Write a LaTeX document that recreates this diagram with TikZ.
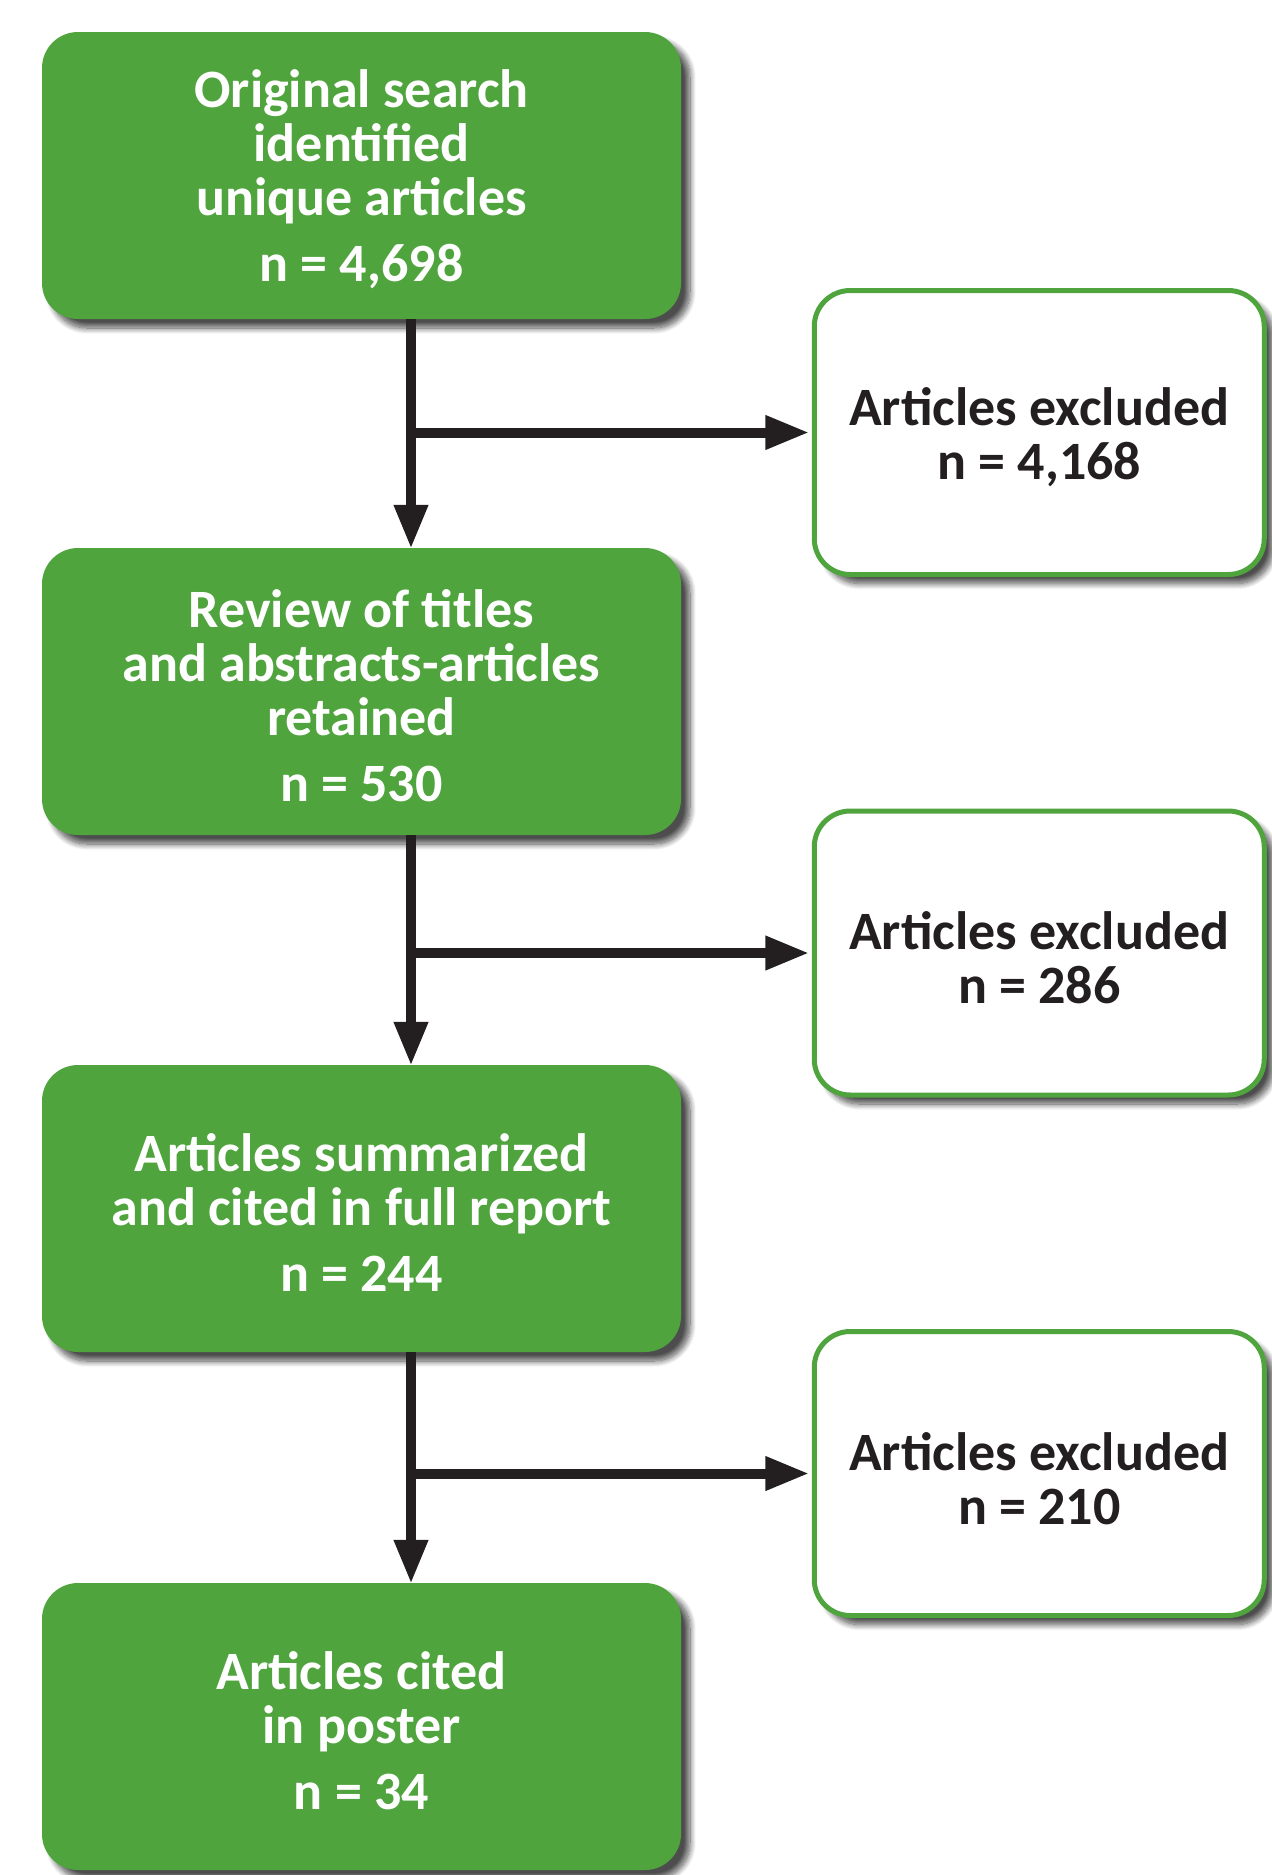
\documentclass[tikz,border=0pt]{standalone}
\usepackage{fontspec}
\setmainfont{Carlito}
\usetikzlibrary{arrows.meta,shadows.blur}
\definecolor{boxgreen}{RGB}{80,164,62}
\definecolor{ink}{RGB}{35,31,32}
\tikzset{
  boxtext/.style={align=center, inner sep=0pt, font=\bfseries\fontsize{54}{54}\selectfont},
  greenbox/.style={fill=boxgreen, draw=none, rounded corners=36pt,
    minimum width=639pt, minimum height=287pt,
    blur shadow={shadow xshift=9pt, shadow yshift=-9pt, shadow blur radius=6pt, shadow opacity=70, shadow blur steps=12}},
  exbox/.style={fill=white, draw=boxgreen, line width=5pt, rounded corners=36pt,
    minimum width=450pt, minimum height=284pt,
    blur shadow={shadow xshift=9pt, shadow yshift=-9pt, shadow blur radius=6pt, shadow opacity=70, shadow blur steps=12}},
  whitetext/.style={boxtext, text=white},
  inktext/.style={boxtext, text=ink},
  flow/.style={draw=ink, line width=10pt, -{Triangle[length=44pt,width=32pt]}},
}
\begin{document}
\begin{tikzpicture}[x=1pt,y=-1pt]
\useasboundingbox (0,0) rectangle (1272,1875);
% boxes
\node[greenbox] (b1) at (361.5,175.5) {};
\node[greenbox] (b2) at (361.5,691.5) {};
\node[greenbox] (b3) at (361.5,1208.5) {};
\node[greenbox] (b4) at (361.5,1726.5) {};
\node[exbox] (e1) at (1039.25,432.5) {};
\node[exbox] (e2) at (1039.25,953) {};
\node[exbox] (e3) at (1039.25,1473.5) {};
% texts
\node[whitetext] (t1) at ([yshift=-4pt]b1.center) {Original search\\identified\\unique articles\\[12pt]n = 4,698};
\node[whitetext] (t2) at ([yshift=-4pt]b2.center) {Review of titles\\and abstracts-articles\\retained\\[12pt]n = 530};
\node[whitetext] (t3) at ([yshift=-4pt]b3.center) {Articles summarized\\and cited in full report\\[12pt]n = 244};
\node[whitetext] (t4) at ([yshift=-4pt]b4.center) {Articles cited\\in poster\\[12pt]n = 34};
\node[inktext] (u1) at ([yshift=-5pt]e1.center) {Articles excluded\\n = 4,168};
\node[inktext] (u2) at ([yshift=-5pt]e2.center) {Articles excluded\\n = 286};
\node[inktext] (u3) at ([yshift=-5pt]e3.center) {Articles excluded\\n = 210};
% connectors
\coordinate (v) at (411,0);
\draw[flow] (b1.south -| v) -- ([yshift=-1pt]b2.north -| v);
\draw[flow] (b2.south -| v) -- ([yshift=-1pt]b3.north -| v);
\draw[flow] (b3.south -| v) -- ([yshift=-1pt]b4.north -| v);
\draw[flow] (v |- e1.west) -- ([xshift=-2.5pt]e1.west);
\draw[flow] (v |- e2.west) -- ([xshift=-2.5pt]e2.west);
\draw[flow] (v |- e3.west) -- ([xshift=-2.5pt]e3.west);
\end{tikzpicture}
\end{document}
